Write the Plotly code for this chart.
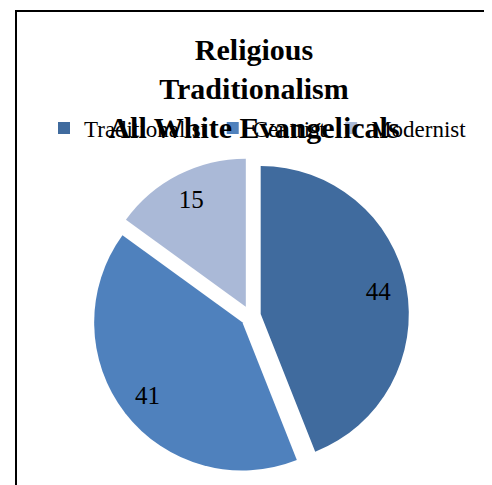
import plotly.graph_objects as go

categories = ["Traditionalist", "Centrist", "Modernist"]
values = [44, 41, 15]
colors = ["#406B9E", "#4F81BD", "#AAB9D7"]
title_lines = ["Religious", "Traditionalism", "All White Evangelicals"]

# page body has an 8px default margin, so the figure is sized to fit the window
W, H = 484, 477
SERIF = "Liberation Serif, Times New Roman, serif"
PULL = [0.07, 0.07, 0.07]
DOMAIN = dict(x=[84 / W, 401 / W], y=[1 - 466.5 / H, 1 - 149.5 / H])

fig = go.Figure()
# coloured slices, with the legend
fig.add_trace(go.Pie(
    labels=categories,
    values=values,
    sort=False,
    direction="clockwise",
    rotation=0,
    pull=PULL,
    marker=dict(colors=colors, line=dict(width=0)),
    textinfo="none",
    hoverinfo="skip",
    domain=DOMAIN,
))
# transparent ring carrying the value labels near the outer edge
fig.add_trace(go.Pie(
    labels=categories,
    values=values,
    sort=False,
    direction="clockwise",
    rotation=0,
    pull=PULL,
    hole=0.62,
    marker=dict(colors=["rgba(0,0,0,0)"] * len(values), line=dict(width=0)),
    textinfo="value",
    textposition="inside",
    insidetextorientation="horizontal",
    textfont=dict(family=SERIF, size=25, color="black"),
    hoverinfo="skip",
    showlegend=False,
    domain=DOMAIN,
))

fig.update_layout(
    width=W, height=H,
    margin=dict(l=0, r=0, t=0, b=0),
    paper_bgcolor="white",
    plot_bgcolor="white",
    title=dict(
        text="<b>" + "<br>".join(title_lines) + "</b>",
        font=dict(family=SERIF, size=30, color="black"),
        x=246 / W, xanchor="center",
        y=1 - 52 / H, yanchor="top", yref="container",
    ),
    showlegend=True,
    legend=dict(
        orientation="h",
        x=36 / W, xanchor="left",
        y=1 - 120 / H, yanchor="middle",
        font=dict(family=SERIF, size=23, color="black"),
        bgcolor="rgba(0,0,0,0)",
        traceorder="normal",
    ),
    shapes=[dict(
        type="path", xref="paper", yref="paper",
        path=f"M {8/W},{-0.05} L {8/W},{1-3/H} L {481/W},{1-3/H} L {481/W},{-0.05}",
        line=dict(color="black", width=2),
    )],
)

fig.write_html("out.html")
